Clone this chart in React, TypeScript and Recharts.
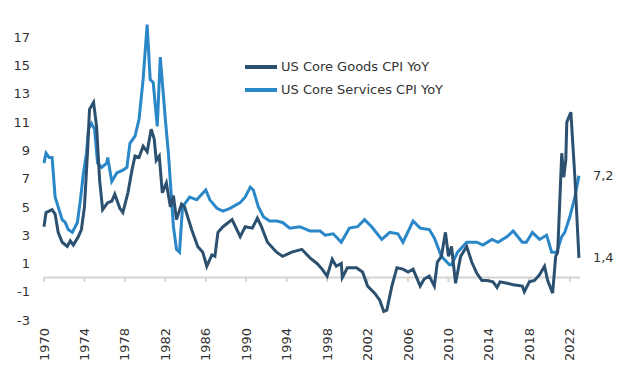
import { LineChart, Line, XAxis, YAxis, ReferenceLine, Legend } from "recharts";

const FONT = "'DejaVu Sans', Verdana, sans-serif";
const TEXT = "#333333";
const GOODS_COLOR = "#2c5170";
const SERVICES_COLOR = "#2a87c8";
const AXIS_GRAY = "#d3d3d3";

const yearTicks = [1970, 1974, 1978, 1982, 1986, 1990, 1994, 1998, 2002, 2006, 2010, 2014, 2018, 2022];
const valueTicks = [-3, -1, 1, 3, 5, 7, 9, 11, 13, 15, 17];

// US Core Goods CPI YoY (%)
const goodsX = [
  1970.0, 1970.2, 1970.8, 1971.1, 1971.4, 1971.8, 1972.3, 1972.6, 1972.9, 1973.4, 1973.7,
  1974.0, 1974.3, 1974.5, 1974.9, 1975.2, 1975.5, 1975.8, 1976.3, 1976.7, 1977.0, 1977.5,
  1977.8, 1978.3, 1978.7, 1979.0, 1979.4, 1979.8, 1980.2, 1980.6, 1980.9, 1981.1, 1981.4,
  1981.7, 1982.1, 1982.5, 1982.8, 1983.1, 1983.6, 1983.9, 1984.6, 1985.2, 1985.7, 1986.1,
  1986.6, 1986.9, 1987.2, 1987.7, 1988.6, 1989.4, 1989.9, 1990.6, 1991.1, 1991.5, 1992.1,
  1993.0, 1993.6, 1994.5, 1995.5, 1996.3, 1997.0, 1997.5, 1998.0, 1998.5, 1998.9, 1999.4,
  1999.5, 2000.0, 2000.9, 2001.5, 2002.0, 2002.7, 2003.2, 2003.6, 2003.9, 2004.4, 2004.9,
  2005.5, 2006.0, 2006.5, 2007.2, 2007.6, 2008.1, 2008.6, 2008.9, 2009.3, 2009.7, 2010.0,
  2010.3, 2010.7, 2011.2, 2011.8, 2012.3, 2012.8, 2013.3, 2013.8, 2014.4, 2014.8, 2015.1,
  2015.8, 2016.4, 2017.3, 2017.5, 2018.0, 2018.5, 2019.0, 2019.5, 2019.8, 2020.3, 2020.6,
  2020.8, 2021.2, 2021.4, 2021.6, 2021.7, 2022.1, 2022.5, 2022.9,
];
const goodsY = [
  3.6, 4.6, 4.8, 4.5, 3.2, 2.5, 2.2, 2.6, 2.3, 2.9, 3.4,
  5.0, 8.8, 11.9, 12.4, 10.7, 6.9, 4.8, 5.3, 5.4, 5.9, 4.9,
  4.6, 6.0, 7.6, 8.6, 8.5, 9.3, 8.9, 10.5, 9.8, 8.3, 8.6,
  6.0, 6.7, 5.0, 5.8, 4.1, 5.2, 5.0, 3.4, 2.2, 1.8, 0.8,
  1.6, 1.5, 3.2, 3.6, 4.1, 2.9, 3.6, 3.5, 4.2, 3.6, 2.5,
  1.8, 1.5, 1.8, 2.0, 1.4, 1.0, 0.6, 0.1, 1.3, 0.8, 1.0,
  0.0, 0.7, 0.7, 0.4, -0.6, -1.1, -1.6, -2.4, -2.3, -0.6, 0.7,
  0.6, 0.4, 0.6, -0.6, -0.1, 0.1, -0.6, 1.1, 1.5, 3.2, 1.5,
  2.2, -0.4, 1.5, 2.2, 1.1, 0.3, -0.2, -0.2, -0.3, -0.7, -0.3,
  -0.4, -0.5, -0.6, -1.0, -0.3, -0.2, 0.2, 0.8, -0.2, -1.1, 1.5,
  1.8, 8.8, 7.1, 8.3, 11.0, 11.7, 7.1, 1.4,
];

// US Core Services CPI YoY (%)
const servicesX = [
  1970.0, 1970.2, 1970.5, 1970.8, 1971.1, 1971.4, 1971.8, 1972.1, 1972.4, 1972.8, 1973.3,
  1973.6, 1973.9, 1974.2, 1974.4, 1974.7, 1975.0, 1975.3, 1975.7, 1976.2, 1976.3, 1976.7,
  1977.2, 1977.8, 1978.2, 1978.5, 1979.0, 1979.4, 1979.8, 1980.2, 1980.5, 1980.8, 1981.2,
  1981.5, 1982.0, 1982.3, 1982.8, 1983.1, 1983.4, 1983.7, 1984.4, 1985.1, 1986.0, 1986.4,
  1987.1, 1987.7, 1988.4, 1989.4, 1989.9, 1990.4, 1990.7, 1991.2, 1991.7, 1992.3, 1993.0,
  1993.6, 1994.3, 1995.3, 1996.3, 1997.3, 1997.8, 1998.6, 1999.4, 2000.2, 2001.0, 2001.7,
  2002.4, 2003.4, 2004.2, 2005.0, 2005.5, 2006.5, 2007.2, 2008.1, 2008.6, 2009.3, 2010.1,
  2010.3, 2010.9, 2011.8, 2012.8, 2013.4, 2014.3, 2014.9, 2015.8, 2016.4, 2017.3, 2017.7,
  2018.3, 2019.0, 2019.7, 2020.2, 2020.7, 2021.2, 2021.5, 2022.0, 2022.5, 2022.9,
];
const servicesY = [
  8.1, 8.8, 8.5, 8.5, 5.7, 5.0, 4.1, 3.9, 3.4, 3.2, 3.9,
  5.5, 7.4, 8.8, 10.5, 10.9, 10.5, 8.1, 7.8, 8.1, 8.5, 6.8,
  7.4, 7.6, 7.8, 9.5, 10.0, 11.2, 14.0, 17.9, 14.0, 13.8, 10.7,
  15.6, 11.2, 8.8, 3.6, 2.0, 1.8, 5.0, 5.7, 5.5, 6.2, 5.5,
  4.9, 4.7, 4.9, 5.3, 5.7, 6.4, 6.2, 5.0, 4.3, 4.0, 4.0,
  3.9, 3.5, 3.6, 3.3, 3.3, 3.0, 3.1, 2.5, 3.5, 3.6, 4.1,
  3.6, 2.7, 3.2, 3.1, 2.5, 4.0, 3.5, 3.4, 2.8, 1.5, 0.9,
  0.9, 1.8, 2.5, 2.5, 2.3, 2.7, 2.5, 2.9, 3.3, 2.5, 2.5,
  3.2, 2.7, 3.0, 1.8, 1.8, 2.9, 3.2, 4.3, 5.7, 7.2,
];

const goodsData = goodsX.map((x, i) => ({ x, v: goodsY[i] }));
const servicesData = servicesX.map((x, i) => ({ x, v: servicesY[i] }));

const legendItems = [
  { label: "US Core Goods CPI YoY", color: GOODS_COLOR },
  { label: "US Core Services CPI YoY", color: SERVICES_COLOR },
];

function renderYearTick(props: any) {
  const { x, y, payload } = props;
  return (
    <g transform={`translate(${x},${y})`}>
      <text
        x={0}
        y={0}
        dy="0.35em"
        transform="rotate(-90)"
        textAnchor="end"
        fill={TEXT}
        fontSize={13}
        fontFamily={FONT}
      >
        {payload.value}
      </text>
    </g>
  );
}

// value label at the end of a series, e.g. "7,2"
function lastValueLabel(count: number) {
  return (props: any) => {
    const { x, y, value, index } = props;
    if (index !== count - 1) return null;
    return (
      <text
        x={x + 14}
        y={y}
        dy="0.35em"
        textAnchor="start"
        fill={TEXT}
        fontSize={13}
        fontFamily={FONT}
      >
        {Number(value).toFixed(1).replace(".", ",")}
      </text>
    );
  };
}

function ChartLegend() {
  return (
    <div style={{ fontFamily: FONT, fontSize: 13, color: TEXT }}>
      {legendItems.map((item) => (
        <div key={item.label} style={{ display: "flex", alignItems: "center", height: 23 }}>
          <span
            style={{ display: "inline-block", width: 32, height: 4, background: item.color, marginRight: 4 }}
          />
          <span>{item.label}</span>
        </div>
      ))}
    </div>
  );
}

export default function App() {
  return (
    <div style={{ position: "absolute", left: 0, top: 0, width: 640, height: 380, background: "#fff" }}>
      <LineChart width={640} height={380} margin={{ top: 9, right: 55, bottom: 0, left: 0 }}>
        <XAxis
          type="number"
          dataKey="x"
          domain={[1970, 2023.5]}
          ticks={yearTicks}
          interval={0}
          axisLine={false}
          tickLine={false}
          height={60}
          tick={renderYearTick}
        />
        <YAxis
          domain={[-3, 19]}
          ticks={valueTicks}
          interval={0}
          axisLine={false}
          tickLine={false}
          width={44}
          tickMargin={8}
          tick={{ fill: TEXT, fontSize: 13, fontFamily: FONT }}
        />
        <ReferenceLine
          segment={[{ x: 1970, y: 0 }, { x: 2023, y: 0 }]}
          stroke={AXIS_GRAY}
          strokeWidth={2}
        />
        {yearTicks.map((yr) => (
          <ReferenceLine
            key={yr}
            segment={[{ x: yr, y: 0 }, { x: yr, y: -0.3 }]}
            stroke={AXIS_GRAY}
            strokeWidth={2}
          />
        ))}
        <Legend
          layout="vertical"
          align="center"
          verticalAlign="middle"
          content={<ChartLegend />}
          wrapperStyle={{ top: 55, left: 245, width: 260 }}
        />
        <Line
          data={servicesData}
          dataKey="v"
          type="linear"
          stroke={SERVICES_COLOR}
          strokeWidth={3}
          dot={false}
          label={lastValueLabel(servicesData.length)}
          isAnimationActive={false}
        />
        <Line
          data={goodsData}
          dataKey="v"
          type="linear"
          stroke={GOODS_COLOR}
          strokeWidth={3}
          dot={false}
          label={lastValueLabel(goodsData.length)}
          isAnimationActive={false}
        />
      </LineChart>
    </div>
  );
}
